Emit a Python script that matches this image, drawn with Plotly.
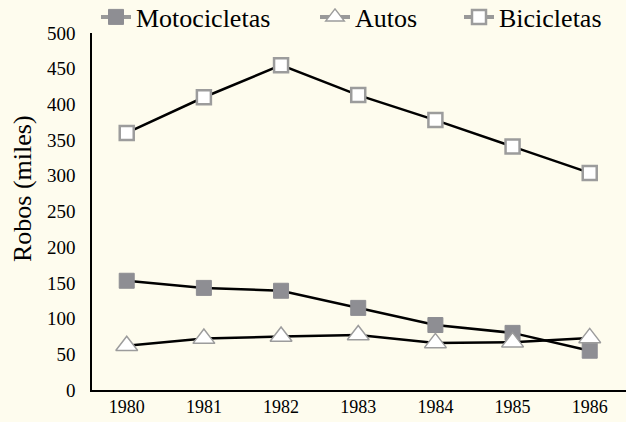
import plotly.graph_objects as go

years = ["1980", "1981", "1982", "1983", "1984", "1985", "1986"]
motocicletas = [153, 143, 139, 115, 91, 80, 55]
autos = [62, 72, 75, 77, 66, 67, 73]
bicicletas = [360, 410, 455, 413, 378, 341, 304]
y_title = "Robos (miles)"

FONT = "Times New Roman"
BG = "#FEFCEE"
GRAY = "#8E8E93"
OUTLINE = "#9C9C9C"

series = [
    ("Motocicletas", motocicletas, dict(symbol="square", size=15, color=GRAY, line=dict(color=GRAY, width=1)), "legend", 96),
    ("Autos", autos, dict(symbol="triangle-up", size=19, color="white", line=dict(color=OUTLINE, width=1.5)), "legend2", 315),
    ("Bicicletas", bicicletas, dict(symbol="square", size=14, color="white", line=dict(color=OUTLINE, width=2.5)), "legend3", 459),
]

fig = go.Figure()
for name, vals, mk, lg, lx in series:
    fig.add_trace(go.Scatter(x=years, y=vals, mode="lines+markers", name=name,
                             line=dict(color="black", width=2.5), marker=mk, showlegend=False))
legends = {}
for name, vals, mk, lg, lx in series:
    fig.add_trace(go.Scatter(x=[None], y=[None], mode="lines+markers", name=name,
                             line=dict(color="#999999", width=4), marker=mk, showlegend=True,
                             legend=lg))
    legends[lg] = dict(orientation="h", x=lx / 626, xanchor="left", xref="container",
                       y=1 - 17 / 422, yanchor="middle", yref="container",
                       font=dict(size=26, family=FONT, color="black"), bgcolor="rgba(0,0,0,0)")

fig.update_layout(
    width=626, height=422,
    paper_bgcolor=BG, plot_bgcolor=BG,
    margin=dict(l=92, r=0, t=33, b=32, autoexpand=False),
    font=dict(family=FONT, color="black", size=18),
    showlegend=True,
    **legends,
)
fig.add_annotation(text=y_title, textangle=-90, xref="paper", yref="paper",
                   x=(22 - 92) / 534, y=(390 - 189) / 357, xanchor="center", yanchor="middle",
                   showarrow=False, font=dict(size=26, family=FONT, color="black"))
fig.update_xaxes(type="category", range=[-0.45, 6.47], showgrid=False, showline=True,
                 linecolor="black", linewidth=1.5, ticks="", tickfont=dict(size=18, family=FONT),
                 zeroline=False, automargin=False)
fig.update_yaxes(range=[0, 500], dtick=50, showgrid=False, showline=True, linecolor="black",
                 linewidth=1.5, ticks="", tickfont=dict(size=19, family=FONT), zeroline=False,
                 automargin=False, ticklabelstandoff=11)

fig.write_html("out.html", config={"displayModeBar": False},
               post_script="document.body.style.margin='0';document.body.style.padding='0';")
